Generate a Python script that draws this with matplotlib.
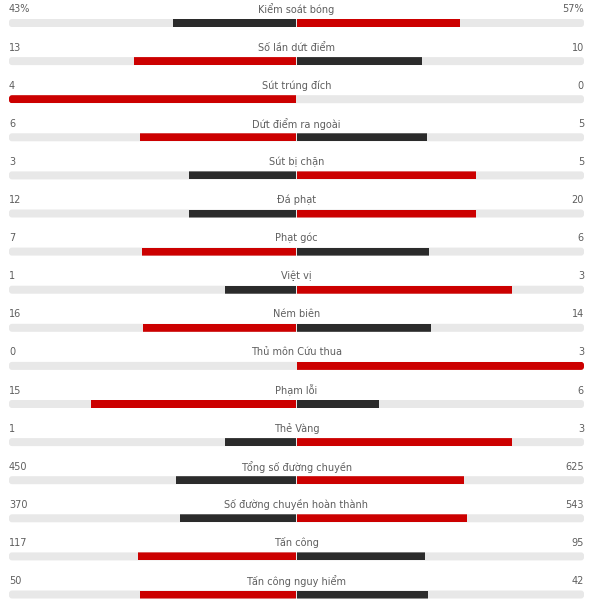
import matplotlib
matplotlib.use("Agg")
import matplotlib.pyplot as plt
from matplotlib.patches import FancyBboxPatch, Rectangle

# thong so tran dau
stats = ["Kiểm soát bóng", "Số lần dứt điểm", "Sút trúng đích", "Dứt điểm ra ngoài",
         "Sút bị chặn", "Đá phạt", "Phạt góc", "Việt vị", "Ném biên",
         "Thủ môn Cứu thua", "Phạm lỗi", "Thẻ Vàng", "Tổng số đường chuyền",
         "Số đường chuyền hoàn thành", "Tấn công", "Tấn công nguy hiểm"]
home = [43, 13, 4, 6, 3, 12, 7, 1, 16, 0, 15, 1, 450, 370, 117, 50]
away = [57, 10, 0, 5, 5, 20, 6, 3, 14, 3, 6, 3, 625, 543, 95, 42]
suffix = ["%"] + [""] * 15

RED = "#cc0000"
DARK = "#2b2b2b"
GRAY = "#e8e8e8"
TXT = "#5e5e5e"

W, H = 591, 608
x0, x1 = 9, 584
mid = (x0 + x1) / 2
half = (x1 - x0) / 2
top = 23
step = 38.1
bh = 8

fig = plt.figure(figsize=(W / 100, H / 100), dpi=100)
ax = fig.add_axes([0, 0, 1, 1])
ax.set_xlim(0, W)
ax.set_ylim(H, 0)
ax.axis("off")

for i in range(len(stats)):
    y = top + i * step
    l, r = home[i], away[i]
    tot = l + r

    bg = FancyBboxPatch((x0, y - bh / 2), x1 - x0, bh,
                        boxstyle="round,pad=0,rounding_size=3",
                        fc=GRAY, ec="none")
    ax.add_patch(bg)

    lw = half * l / tot if tot else 0
    rw = half * r / tot if tot else 0
    lc = RED if l > r else DARK
    rc = RED if r > l else DARK
    pl = Rectangle((mid - lw, y - bh / 2), lw - 0.5, bh, fc=lc, ec="none")
    pr = Rectangle((mid + 0.5, y - bh / 2), rw - 0.5, bh, fc=rc, ec="none")
    for p in (pl, pr):
        if p.get_width() > 0:
            ax.add_patch(p)
            p.set_clip_path(bg)

    ty = y - 13.5
    ax.text(x0, ty, f"{l}{suffix[i]}", ha="left", va="center", fontsize=7, color=TXT)
    ax.text(x1, ty, f"{r}{suffix[i]}", ha="right", va="center", fontsize=7, color=TXT)
    ax.text(mid, ty, stats[i], ha="center", va="center", fontsize=7, color=TXT)

fig.savefig("out.png", dpi=100)
